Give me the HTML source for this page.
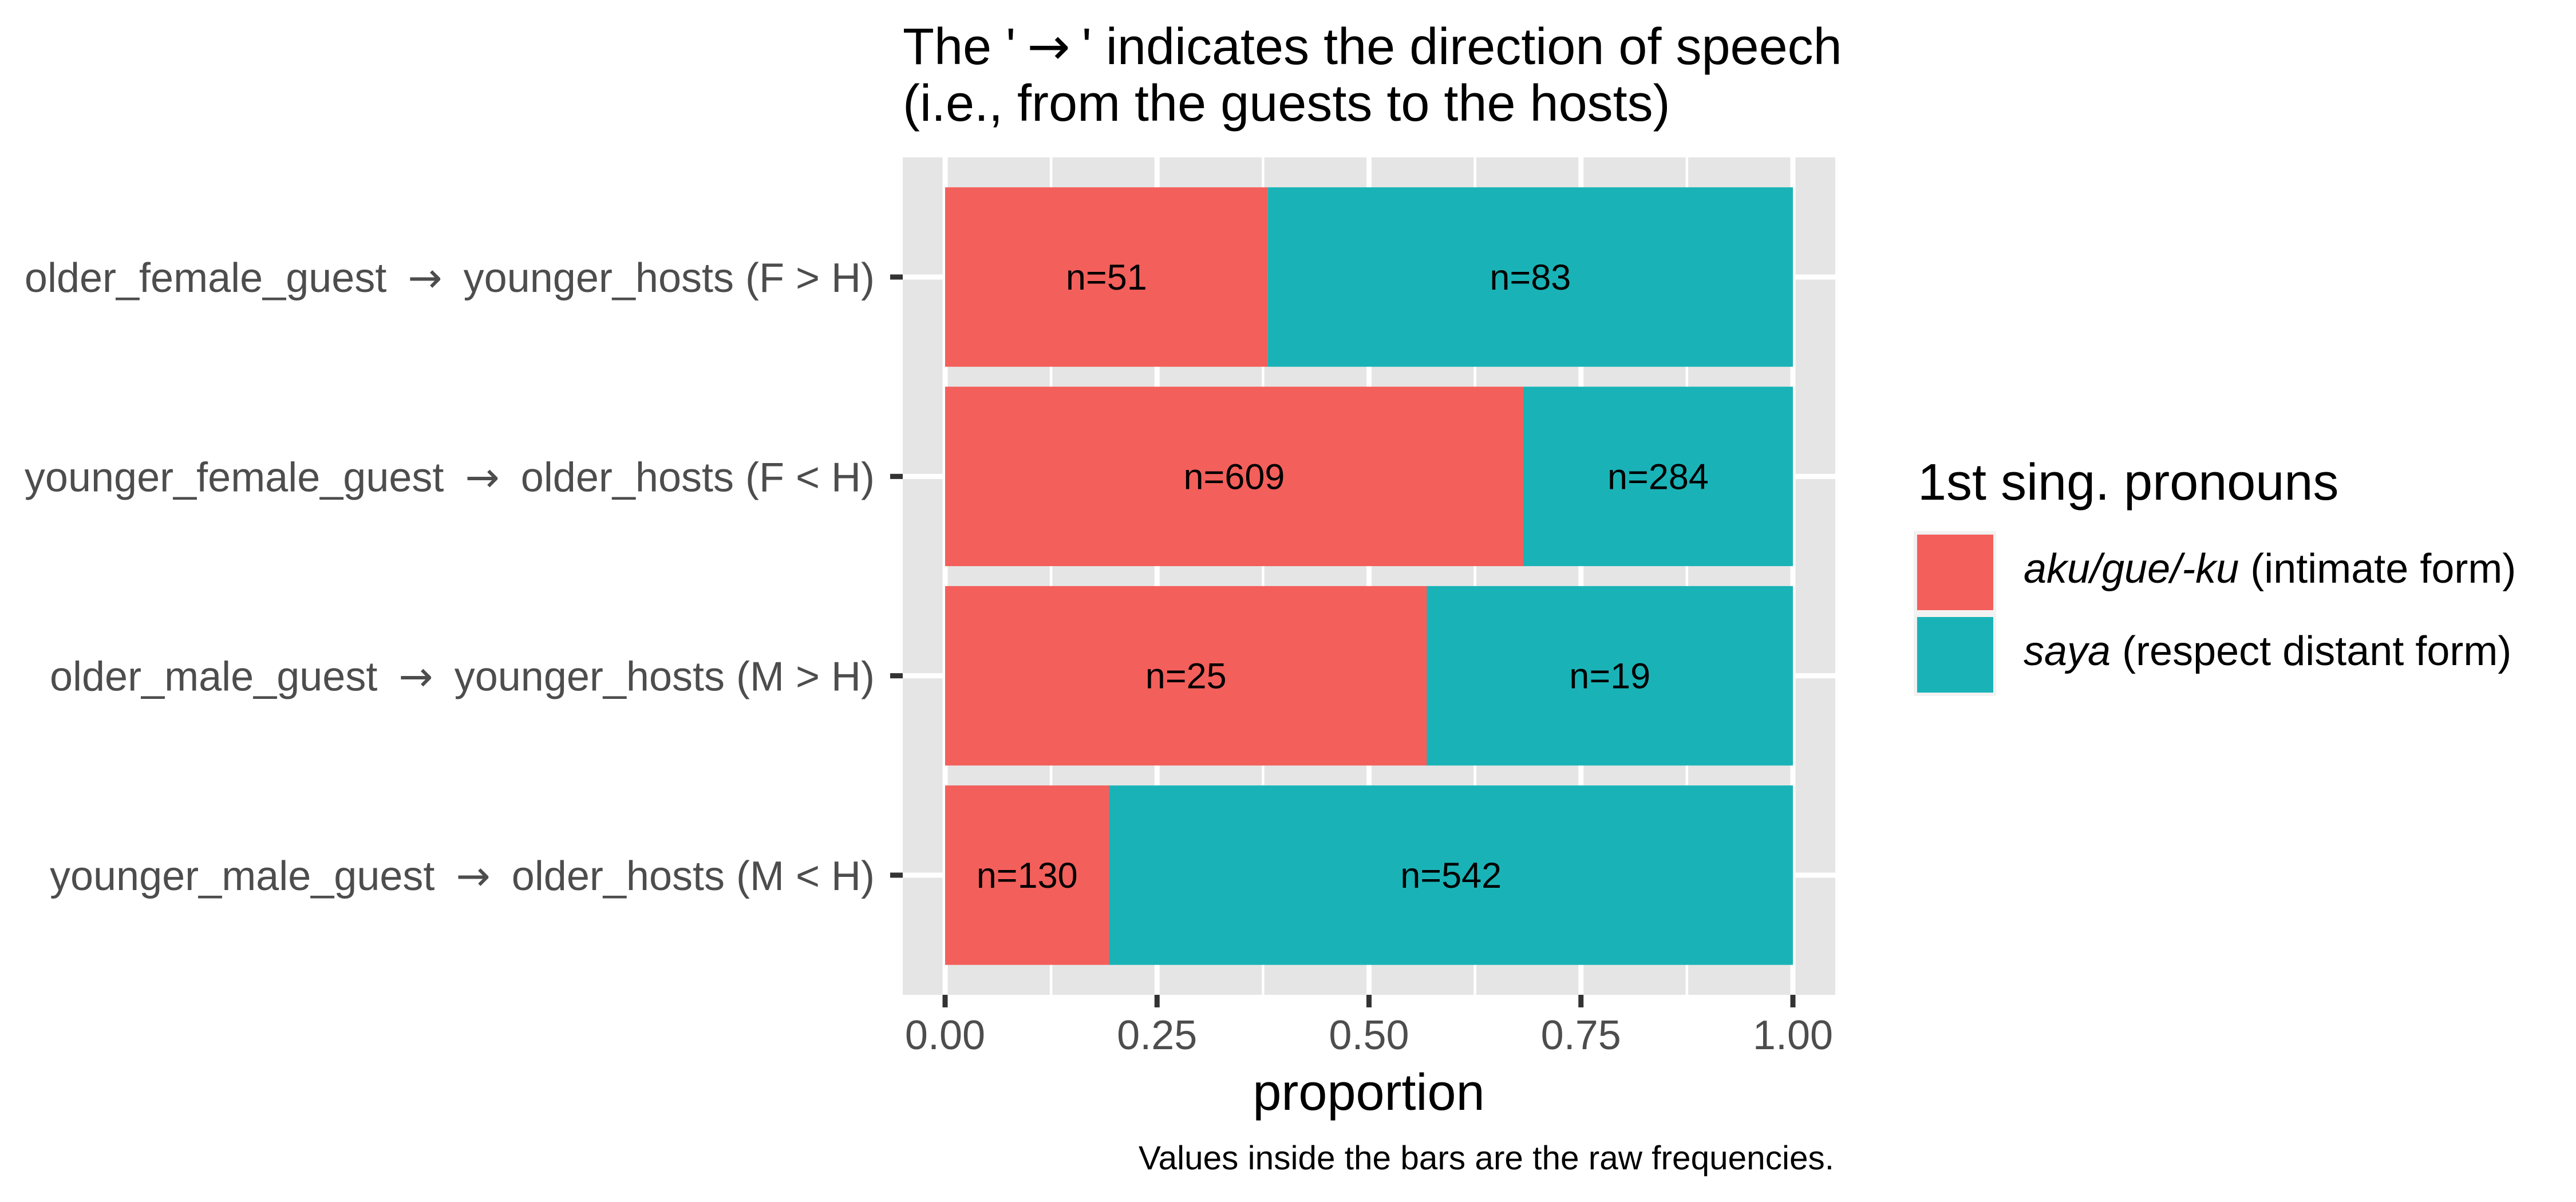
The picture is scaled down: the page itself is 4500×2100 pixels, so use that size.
<!DOCTYPE html>
<html><head><meta charset="utf-8">
<style>
html,body{margin:0;padding:0;background:#fff;}
svg{display:block;font-family:"Liberation Sans",Arial,sans-serif;}
.arr{font-family:"DejaVu Sans",sans-serif;}
</style></head>
<body>
<svg id="chart" width="4500" height="2100" viewBox="0 0 4500 2100" xmlns="http://www.w3.org/2000/svg">
<rect x="0" y="0" width="4500" height="2100" fill="#ffffff"/>
<text x="1577" y="112" font-size="90" fill="#000">The '<tspan class="arr" dx="20">→</tspan><tspan dx="20">' indicates the direction of speech</tspan></text>
<text x="1577" y="211" font-size="90" fill="#000">(i.e., from the guests to the hosts)</text>
<rect x="1577" y="275" width="1629" height="1463" fill="#e5e5e5"/>
<g id="grid"></g>
<g id="bars"></g>
<g id="yaxis"></g>
<g id="xaxis"></g>
<text x="2391" y="1939" font-size="90" text-anchor="middle" fill="#000">proportion</text>
<text x="3204" y="2043" font-size="58.5" text-anchor="end" fill="#000">Values inside the bars are the raw frequencies.</text>
<g>
<text x="3350" y="873" font-size="90" fill="#000">1st sing. pronouns</text>
<rect x="3343" y="928" width="144" height="288" fill="#f2f2f2"/>
<rect x="3349" y="934" width="133" height="132" fill="#f35f5b"/>
<rect x="3349" y="1078" width="133" height="132" fill="#19b3b7"/>
<text x="3535" y="1018" font-size="72" fill="#000"><tspan font-style="italic">aku/gue/-ku</tspan> (intimate form)</text>
<text x="3535" y="1162" font-size="72" fill="#000"><tspan font-style="italic">saya</tspan> (respect distant form)</text>
</g>
</svg>
<script>
const categoryGuests = ["older_female_guest", "younger_female_guest", "older_male_guest", "younger_male_guest"];
const categoryHosts = ["younger_hosts (F > H)", "older_hosts (F < H)", "younger_hosts (M > H)", "older_hosts (M < H)"];
const intimateCounts = [51, 609, 25, 130];
const respectCounts = [83, 284, 19, 542];
const xTicks = [0, 0.25, 0.5, 0.75, 1];
const xTickLabels = ["0.00", "0.25", "0.50", "0.75", "1.00"];

const NS = "http://www.w3.org/2000/svg";
const X0 = 1651, X1 = 3132;
const PANEL_TOP = 275, UNIT = 1463 / (categoryGuests.length + 0.2);
function xScale(v){ return X0 + v * (X1 - X0); }
function yCenter(i){ return PANEL_TOP + (0.6 + i) * UNIT; }
function mk(tag, attrs, parent){
  const el = document.createElementNS(NS, tag);
  for (const k in attrs) el.setAttribute(k, attrs[k]);
  parent.appendChild(el);
  return el;
}
const grid = document.getElementById("grid");
for (let i = 0; i < xTicks.length - 1; i++) {
  const v = (xTicks[i] + xTicks[i+1]) / 2;
  const l = mk("line", {x1: xScale(v), x2: xScale(v), y1: 275, y2: 1738, stroke: "#fff", "stroke-width": 4.5}, grid);
  
  
}
xTicks.forEach(v => {
  const l = mk("line", {x1: xScale(v), x2: xScale(v), y1: 275, y2: 1738, stroke: "#fff", "stroke-width": 9}, grid);
  
  
});
categoryGuests.forEach((c, i) => {
  const l = mk("line", {x1: 1577, x2: 3206, y1: yCenter(i), y2: yCenter(i), stroke: "#fff", "stroke-width": 9}, grid);
  
  
});
const bars = document.getElementById("bars");
const yaxis = document.getElementById("yaxis");
const barH = UNIT * 0.9;
categoryGuests.forEach((c, i) => {
  const tot = intimateCounts[i] + respectCounts[i];
  const p = intimateCounts[i] / tot;
  const yc = yCenter(i), yt = yc - barH / 2;
  const r1 = mk("rect", {x: xScale(0), y: yt, width: xScale(p) - xScale(0), height: barH, fill: "#f35f5b"}, bars);
  
  
  const r2 = mk("rect", {x: xScale(p), y: yt, width: xScale(1) - xScale(p), height: barH, fill: "#19b3b7"}, bars);
  
  
  const t1 = mk("text", {x: xScale(p / 2), y: yc + 22, "font-size": 63, "text-anchor": "middle", fill: "#000"}, bars);
  t1.textContent = "n=" + intimateCounts[i];
  
  
  const t2 = mk("text", {x: xScale((p + 1) / 2), y: yc + 22, "font-size": 63, "text-anchor": "middle", fill: "#000"}, bars);
  t2.textContent = "n=" + respectCounts[i];
  
  
  const tk = mk("line", {x1: 1555, x2: 1577, y1: yc, y2: yc, stroke: "#333", "stroke-width": 9}, yaxis);
  
  
  const lb = mk("text", {x: 1528, y: yc + 26, "font-size": 72, "text-anchor": "end", fill: "#4d4d4d"}, yaxis);
  
  
  lb.appendChild(document.createTextNode(c + " "));
  const a = mk("tspan", {class: "arr", dx: 17}, lb);
  a.textContent = "\u2192";
  const rest = mk("tspan", {dx: 17}, lb);
  rest.textContent = " " + categoryHosts[i];
});
const xaxis = document.getElementById("xaxis");
xTicks.forEach((v, i) => {
  const tk = mk("line", {x1: xScale(v), x2: xScale(v), y1: 1738, y2: 1760, stroke: "#333", "stroke-width": 9}, xaxis);
  
  
  const lb = mk("text", {x: xScale(v), y: 1833, "font-size": 72, "text-anchor": "middle", fill: "#4d4d4d"}, xaxis);
  lb.textContent = xTickLabels[i];
  
  
});
</script>
</body></html>
